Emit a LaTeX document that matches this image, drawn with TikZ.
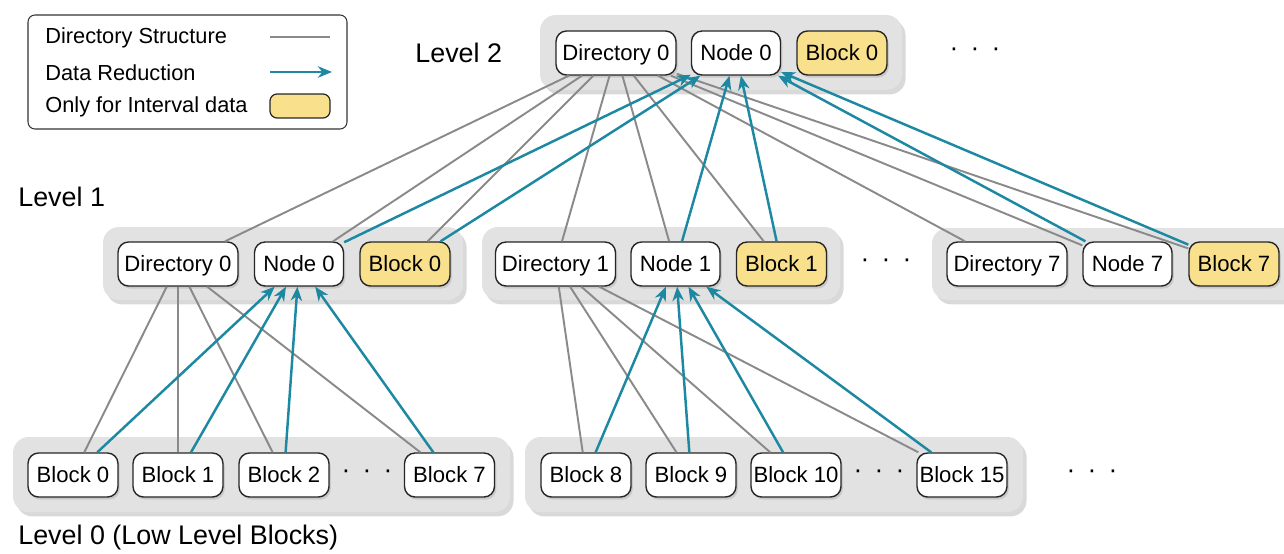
\documentclass[tikz,border=0pt]{standalone}
\usepackage{fontspec}
\setmainfont{Liberation Sans}
\usetikzlibrary{arrows.meta}
\usetikzlibrary{shadows}
\usepackage{xcolor}
\definecolor{dirgray}{HTML}{8A8A8A}
\definecolor{redteal}{HTML}{1C88A1}
\definecolor{ivyellow}{HTML}{F8E08C}
\definecolor{grpgray}{HTML}{E2E2E2}
\newcommand{\gapdots}{\fontsize{15}{18}\selectfont ·\hspace{7pt}·\hspace{7pt}·}

\begin{document}
\begin{tikzpicture}[x=0.02cm,y=-0.02cm,
  box/.style={draw=black!85,line width=0.8pt,fill=white,rounded corners=6pt,
    minimum height=0.88cm,inner xsep=1pt,text height=10.5pt,text depth=1.5pt,
    font=\fontsize{12.6}{14}\selectfont,
    drop shadow={shadow xshift=1pt,shadow yshift=-1.5pt,opacity=0.25}},
  dirbox/.style={box,minimum width=2.4cm},
  nodebox/.style={box,minimum width=1.78cm},
  blkbox/.style={box,minimum width=1.8cm},
  ivbox/.style={blkbox,fill=ivyellow},
  grpbg/.style={fill=grpgray,rounded corners=9pt,
    drop shadow={shadow xshift=2pt,shadow yshift=-2.5pt,opacity=0.3}},
  dirline/.style={draw=dirgray,line width=1.1pt},
  redline/.style={draw=redteal,line width=1.4pt,-{Stealth[length=8pt,width=6.5pt,inset=2.5pt]}},
  lvl/.style={anchor=west,inner sep=0pt,font=\fontsize{15.3}{18}\selectfont},
  lgd/.style={anchor=west,inner sep=0pt,font=\fontsize{12.4}{14}\selectfont}]
\useasboundingbox (0,0) rectangle (1284,554);

% legend
\draw[rounded corners=4pt,line width=0.6pt,draw=black!80] (28,15) rectangle (347,129);
\node[lgd] (lgdir) at (45,38) {Directory Structure};
\node[lgd] (lgred) at (45,73) {Data Reduction};
\node[lgd] (lgiv) at (45,107) {Only for Interval data};
\coordinate (lgA) at (270,37);
\coordinate (lgB) at (330,37);
\coordinate (lgC) at (270,72);
\coordinate (lgD) at (332,72);
\draw[dirline] (lgA)--(lgB);
\draw[redline] (lgC)--(lgD);
\node[draw=black!85,line width=0.7pt,fill=ivyellow,rounded corners=4pt,
  minimum width=1.2cm,minimum height=0.48cm] (lgsw) at (300,106) {};

% group backgrounds
\fill[grpbg] (540,15) rectangle (902,90);
\fill[grpbg] (103,227) rectangle (463,300);
\fill[grpbg] (482,227) rectangle (840,300);
\fill[grpbg] (932,228) rectangle (1300,300);
\fill[grpbg] (13,437) rectangle (510,512);
\fill[grpbg] (525,437) rectangle (1023,512);

\node[lvl] (lv2) at (415,53) {Level 2};
\node[lvl] (lv1) at (18,197) {Level 1};
\node[lvl] (lv0) at (18,538) {Level 0 (Low Level Blocks)};

% level 2
\node[dirbox] (dirA) at (616,53) {Directory 0};
\node[nodebox] (nodeA) at (736,53) {Node 0};
\node[ivbox] (blkA) at (842,53) {Block 0};
\node[] (dotsA) at (975,52) {\gapdots};

% level 1
\node[dirbox] (dir0) at (178,264) {Directory 0};
\node[nodebox] (node0) at (299,264) {Node 0};
\node[ivbox] (blk0) at (405,264) {Block 0};
\node[dirbox] (dir1) at (555.5,264) {Directory 1};
\node[nodebox] (node1) at (675.5,264) {Node 1};
\node[ivbox] (blk1) at (781.5,264) {Block 1};
\node[] (dotsB) at (886,263) {\gapdots};
\node[dirbox] (dir7) at (1007,264) {Directory 7};
\node[nodebox] (node7) at (1127.5,264) {Node 7};
\node[ivbox] (blk7) at (1234,264) {Block 7};

% level 0
\node[blkbox] (b0) at (73,475) {Block 0};
\node[blkbox] (b1) at (178,475) {Block 1};
\node[blkbox] (b2) at (284,475) {Block 2};
\node[] (dotsC) at (367,474) {\gapdots};
\node[blkbox] (b7) at (449.5,475) {Block 7};
\node[blkbox] (b8) at (586,475) {Block 8};
\node[blkbox] (b9) at (691,475) {Block 9};
\node[blkbox] (b10) at (796,475) {Block 10};
\node[] (dotsD) at (879,474) {\gapdots};
\node[blkbox] (b15) at (962,475) {Block 15};
\node[] (dotsE) at (1092,474) {\gapdots};

\foreach \t in {dir0,node0,blk0,dir1,node1,blk1,dir7,node7,blk7}
  \draw[dirline] (dirA)--(\t);
\foreach \s in {node0,blk0,node1,blk1,node7,blk7}
  \draw[redline] (\s)--(nodeA);

\foreach \t in {b0,b1,b2,b7}
  \draw[dirline] (dir0)--(\t);
\foreach \s in {b0,b1,b2,b7}
  \draw[redline] (\s)--(node0);
\foreach \t in {b8,b9,b10,b15}
  \draw[dirline] (dir1)--(\t);
\foreach \s in {b8,b9,b10,b15}
  \draw[redline] (\s)--(node1);
\end{tikzpicture}
\end{document}
